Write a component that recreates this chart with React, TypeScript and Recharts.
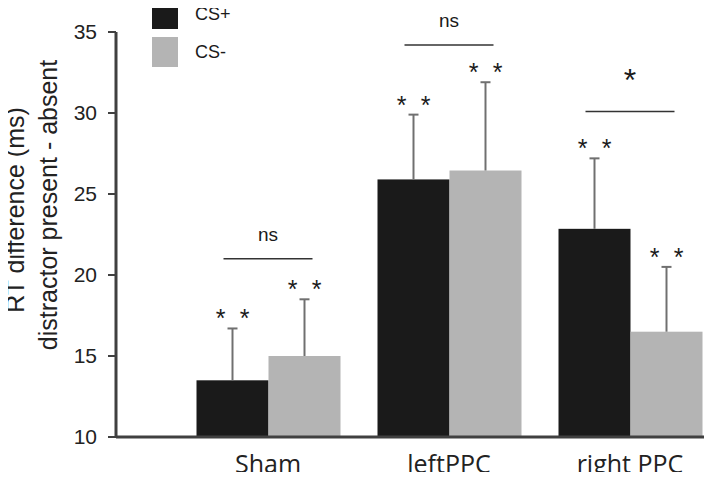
import { BarChart, Bar, XAxis, YAxis, Legend } from "recharts";

const categories = ["Sham", "leftPPC", "right PPC"];
const csPlus = [13.5, 25.9, 22.85];
const csMinus = [15.0, 26.45, 16.5];
const csPlusErr = [3.2, 4.0, 4.35];
const csMinusErr = [3.5, 5.45, 4.0];
const csPlusSig = ["* *", "* *", "* *"];
const csMinusSig = ["* *", "* *", "* *"];
const pairLabels = ["ns", "ns", "*"];
const pairY = [21.0, 34.2, 30.1];
const yTicks = [10, 15, 20, 25, 30, 35];

const Y_MIN = 10;
const PLUS_FILL = "#1a1a1a";
const MINUS_FILL = "#b4b4b4";
const AXIS = "#404040";
const ERR = "#707070";
const SANS = "Liberation Sans, Arial, sans-serif";

const data = categories.map((name, i) => ({
  name,
  plus: csPlus[i],
  minus: csMinus[i],
  plusErr: csPlusErr[i],
  minusErr: csMinusErr[i],
  plusSig: csPlusSig[i],
  minusSig: csMinusSig[i],
  pair: pairLabels[i],
  pairY: pairY[i],
}));

function makeShape(valueKey: string, errKey: string, sigKey: string, fill: string, bracket: boolean) {
  return (props: any) => {
    const { x, y, width, height, payload } = props;
    const val = payload[valueKey];
    const ppu = height / (val - Y_MIN);
    const base = y + height;
    const cx = x + width / 2;
    const errY = base - (val + payload[errKey] - Y_MIN) * ppu;
    const stars = payload[sigKey].split(" ");
    let br = null;
    if (bracket) {
      const ly = base - (payload.pairY - Y_MIN) * ppu;
      const x1 = cx - 9;
      const x2 = cx + width + 8;
      const big = payload.pair === "*";
      br = (
        <g>
          <line x1={x1} x2={x2} y1={ly} y2={ly} stroke="#333" strokeWidth={1.5} />
          <text
            x={(x1 + x2) / 2}
            y={big ? ly - 20 : ly - 18}
            textAnchor="middle"
            fontSize={big ? 32 : 19}
            fontFamily={SANS}
            fill="#1a1a1a"
          >
            {payload.pair}
          </text>
        </g>
      );
    }
    return (
      <g>
        <rect x={x} y={y} width={width} height={height} fill={fill} />
        <line x1={cx} x2={cx} y1={y} y2={errY} stroke={ERR} strokeWidth={2} />
        <line x1={cx - 5} x2={cx + 5} y1={errY} y2={errY} stroke={ERR} strokeWidth={2} />
        {stars.map((s: string, k: number) => (
          <text
            key={k}
            x={cx + (k === 0 ? -12 : 12)}
            y={errY - 1}
            textAnchor="middle"
            fontSize={25}
            fontFamily={SANS}
            fill="#1a1a1a"
          >
            {s}
          </text>
        ))}
        {br}
      </g>
    );
  };
}

const LegendBox = () => (
  <div style={{ fontFamily: SANS, fontSize: 18, color: "#1a1a1a" }}>
    {[
      { label: "CS+", fill: PLUS_FILL },
      { label: "CS-", fill: MINUS_FILL },
    ].map((d, i) => (
      <div key={d.label} style={{ display: "flex", alignItems: "center", height: 30, marginTop: i ? 8 : 0 }}>
        <div style={{ width: 26, height: 30, background: d.fill }} />
        <span style={{ marginLeft: 17 }}>{d.label}</span>
      </div>
    ))}
  </div>
);

const YLabel = () => (
  <g fontFamily={SANS} fontSize={25} fill="#222">
    <text x={24} y={210} transform="rotate(-90, 24, 210)" textAnchor="middle">
      RT difference (ms)
    </text>
    <text x={57} y={205} transform="rotate(-90, 57, 205)" textAnchor="middle">
      distractor present - absent
    </text>
  </g>
);

export default function App() {
  return (
    <div style={{ margin: -8, width: 712, height: 480, overflow: "hidden", position: "relative", background: "#fff" }}>
      <BarChart
        width={740}
        height={480}
        data={data}
        margin={{ top: 32, right: 19.5, bottom: 0, left: 0 }}
        barSize={72}
        barGap={0}
        style={{ overflow: "visible" }}
      >
        <XAxis
          dataKey="name"
          axisLine={{ stroke: AXIS, strokeWidth: 3 }}
          tickLine={false}
          tickSize={0}
          tickMargin={18}
          height={43}
          padding={{ left: 61.5, right: 0 }}
          tick={{ fontSize: 25, fontFamily: "Open Sans, sans-serif", fill: "#222" }}
          interval={0}
        />
        <YAxis
          width={116}
          domain={[10, 35]}
          ticks={yTicks}
          axisLine={{ stroke: AXIS, strokeWidth: 3 }}
          tickLine={{ stroke: AXIS, strokeWidth: 2 }}
          tickSize={8}
          tickMargin={11}
          tick={{ fontSize: 21, fontFamily: SANS, fill: "#222" }}
          label={<YLabel />}
        />
        <Legend
          layout="vertical"
          align="center"
          verticalAlign="middle"
          wrapperStyle={{ position: "absolute", top: -1, left: 152, width: 120 }}
          content={<LegendBox />}
        />
        <Bar
          dataKey="plus"
          name="CS+"
          fill={PLUS_FILL}
          isAnimationActive={false}
          shape={makeShape("plus", "plusErr", "plusSig", PLUS_FILL, true)}
        />
        <Bar
          dataKey="minus"
          name="CS-"
          fill={MINUS_FILL}
          isAnimationActive={false}
          shape={makeShape("minus", "minusErr", "minusSig", MINUS_FILL, false)}
        />
      </BarChart>
    </div>
  );
}
